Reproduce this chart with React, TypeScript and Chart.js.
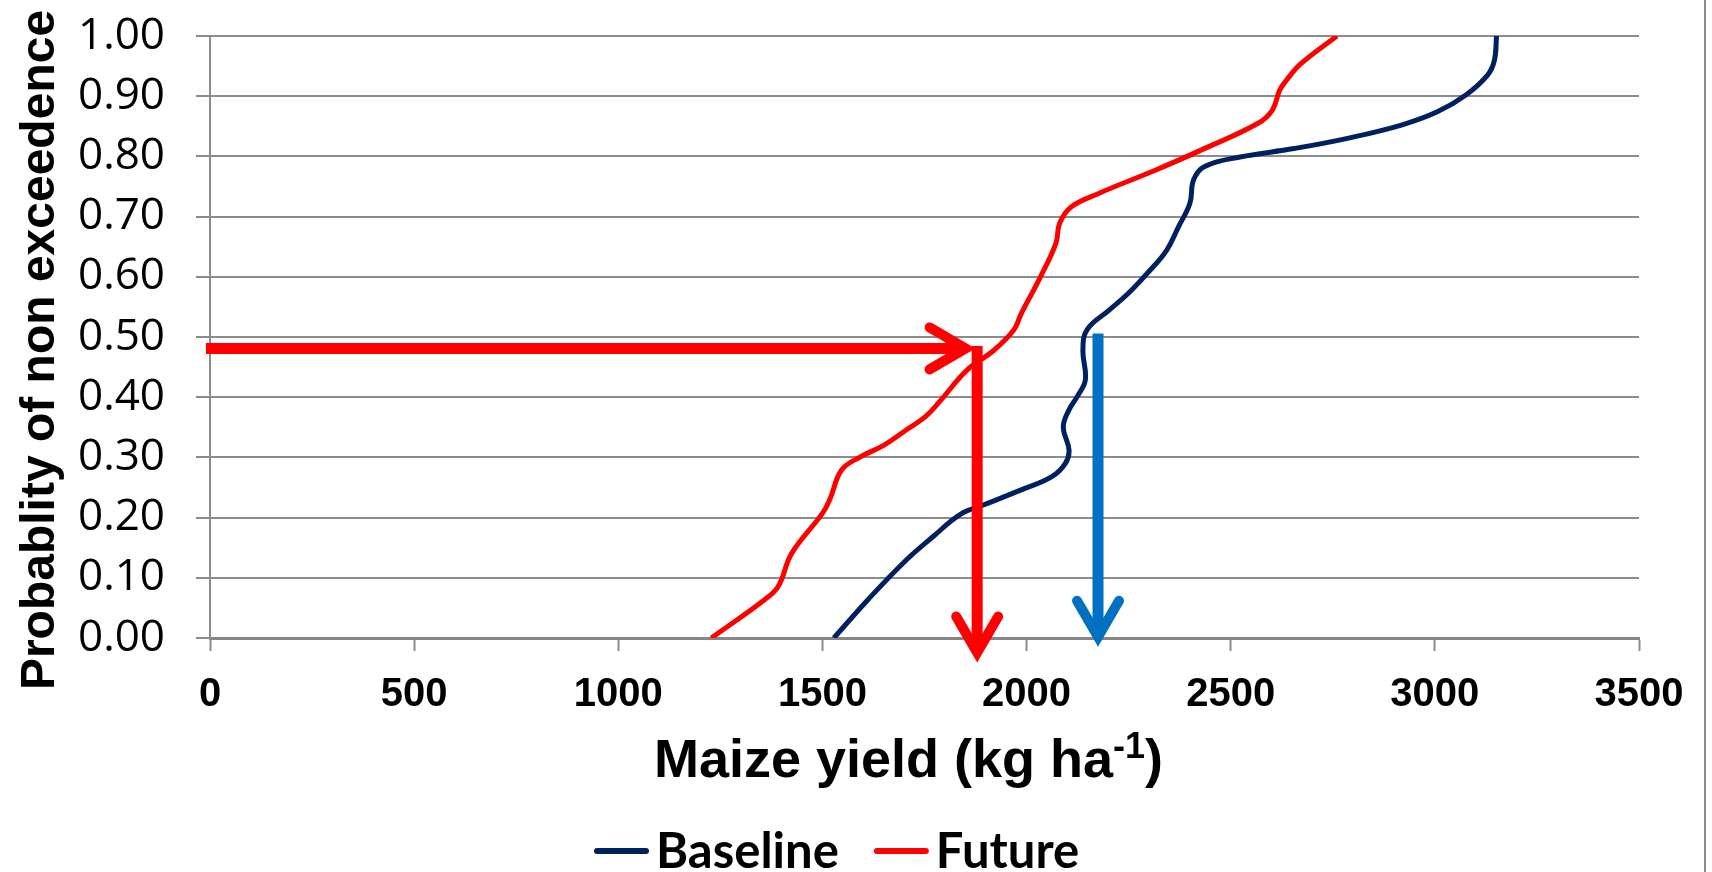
import React, { useEffect, useRef } from "react";
import { Chart, registerables } from "chart.js";

Chart.register(...registerables);

// ---------- data ----------
const seriesNames = ["Baseline", "Future"];
const seriesColors = ["#002060", "#FF0000"];

const baselineProb = [0, 0.064, 0.13, 0.169, 0.205, 0.221, 0.246, 0.268, 0.29, 0.312, 0.351, 0.379, 0.401, 0.429, 0.478, 0.512, 0.545, 0.573, 0.606, 0.644, 0.683, 0.722, 0.761, 0.783, 0.799, 0.813, 0.83, 0.852, 0.874, 0.902, 0.935, 0.96, 1.0];
const baselineYield = [1528, 1612, 1706, 1772, 1837, 1894, 1987, 2062, 2095, 2104, 2090, 2104, 2124, 2144, 2138, 2148, 2203, 2250, 2296, 2343, 2372, 2400, 2409, 2435, 2523, 2655, 2786, 2918, 3006, 3076, 3129, 3146, 3151];

const futureProb = [0, 0.064, 0.086, 0.141, 0.207, 0.23, 0.279, 0.301, 0.32, 0.346, 0.368, 0.395, 0.445, 0.478, 0.512, 0.539, 0.6, 0.656, 0.689, 0.716, 0.738, 0.777, 0.81, 0.855, 0.877, 0.91, 0.927, 0.954, 1.0];
const futureYield = [1228, 1359, 1392, 1425, 1500, 1518, 1547, 1593, 1650, 1706, 1753, 1790, 1854, 1920, 1969, 1987, 2034, 2072, 2081, 2109, 2175, 2315, 2426, 2567, 2602, 2620, 2637, 2672, 2760];

const xTicks = [0, 500, 1000, 1500, 2000, 2500, 3000, 3500];
const yTicks = [0, 0.1, 0.2, 0.3, 0.4, 0.5, 0.6, 0.7, 0.8, 0.9, 1.0];

const xTitleMain = "Maize yield (kg ha";
const xTitleSup = "-1";
const xTitleEnd = ")";
const yTitle = "Probablity of non exceedence";

// annotation arrows (data units)
const arrowFromYield = [-10, 1879, 2175];
const arrowFromProb = [0.481, 0.485, 0.506];
const arrowToYield = [1880, 1879, 2175];
const arrowToProb = [0.481, -0.044, -0.018];
const arrowColors = ["#FF0000", "#FF0000", "#0070C0"];

// ---------- styles ----------
const FONT_ARIAL = '"Liberation Sans", Arial, Helvetica, sans-serif';
const FONT_YTICK = '"Open Sans", "Noto Sans", sans-serif';
const FONT_LEGEND = 'Lato, "Open Sans", sans-serif';
const GRID = "#8C8C8C";

const W = 1712;
const H = 872;

function drawArrow(ctx: CanvasRenderingContext2D, x1: number, y1: number, x2: number, y2: number, color: string) {
  const dx = x2 - x1;
  const dy = y2 - y1;
  const len = Math.hypot(dx, dy);
  const ux = dx / len;
  const uy = dy / len;
  const px = -uy;
  const py = ux;
  const miter = 12;
  const tx = x2 - ux * miter;
  const ty = y2 - uy * miter;
  ctx.save();
  ctx.strokeStyle = color;
  ctx.lineWidth = 11;
  ctx.lineCap = "butt";
  ctx.beginPath();
  ctx.moveTo(x1, y1);
  ctx.lineTo(tx, ty);
  ctx.stroke();
  ctx.lineWidth = 10;
  ctx.lineCap = "round";
  ctx.lineJoin = "miter";
  ctx.miterLimit = 10;
  const back = 48;
  const side = 21;
  ctx.beginPath();
  ctx.moveTo(x2 - ux * back + px * side, y2 - uy * back + py * side);
  ctx.lineTo(tx, ty);
  ctx.lineTo(x2 - ux * back - px * side, y2 - uy * back - py * side);
  ctx.stroke();
  ctx.restore();
}

export default function App() {
  const ref = useRef<HTMLCanvasElement>(null);

  useEffect(() => {
    const canvas = ref.current;
    if (!canvas) return;

    const overlay = {
      id: "overlay",
      afterDatasetsDraw(chart: any) {
        const ctx: CanvasRenderingContext2D = chart.ctx;
        const xs = chart.scales.x;
        const ys = chart.scales.y;
        for (let i = 0; i < arrowColors.length; i++) {
          drawArrow(
            ctx,
            xs.getPixelForValue(arrowFromYield[i]),
            ys.getPixelForValue(arrowFromProb[i]),
            xs.getPixelForValue(arrowToYield[i]),
            ys.getPixelForValue(arrowToProb[i]),
            arrowColors[i]
          );
        }
      },
      afterDraw(chart: any) {
        const ctx: CanvasRenderingContext2D = chart.ctx;
        ctx.save();
        ctx.fillStyle = "#000";

        // x title with superscript
        const mainFont = `bold 54px ${FONT_ARIAL}`;
        const supFont = `bold 36px ${FONT_ARIAL}`;
        ctx.font = mainFont;
        const wMain = ctx.measureText(xTitleMain).width;
        const wEnd = ctx.measureText(xTitleEnd).width;
        ctx.font = supFont;
        const wSup = ctx.measureText(xTitleSup).width;
        const total = wMain + wSup + wEnd;
        const cx = (chart.chartArea.left + chart.chartArea.right) / 2 - 16;
        let x = cx - total / 2;
        const base = 777;
        ctx.textBaseline = "alphabetic";
        ctx.textAlign = "left";
        ctx.font = mainFont;
        ctx.fillText(xTitleMain, x, base);
        x += wMain;
        ctx.font = supFont;
        ctx.fillText(xTitleSup, x, base - 19);
        x += wSup;
        ctx.font = mainFont;
        ctx.fillText(xTitleEnd, x, base);

        // y title
        ctx.save();
        ctx.translate(54, 350);
        ctx.rotate(-Math.PI / 2);
        ctx.font = `bold 48px ${FONT_ARIAL}`;
        ctx.textAlign = "center";
        ctx.textBaseline = "alphabetic";
        ctx.fillText(yTitle, 0, 0);
        ctx.restore();

        // legend
        ctx.font = `bold 49px ${FONT_LEGEND}`;
        let lx = 594;
        const ly = 851;
        chart.data.datasets.forEach((ds: any) => {
          ctx.strokeStyle = ds.borderColor;
          ctx.lineWidth = 6;
          ctx.lineCap = "round";
          ctx.beginPath();
          ctx.moveTo(lx + 3, ly);
          ctx.lineTo(lx + 52, ly);
          ctx.stroke();
          ctx.fillStyle = "#000";
          ctx.textAlign = "left";
          ctx.textBaseline = "alphabetic";
          ctx.fillText(ds.label, lx + 62, 868);
          lx += 62 + ctx.measureText(ds.label).width + 35;
        });

        // outer frame edge
        ctx.strokeStyle = GRID;
        ctx.lineWidth = 2;
        ctx.beginPath();
        ctx.moveTo(1705, 0);
        ctx.lineTo(1705, H);
        ctx.stroke();
        ctx.restore();
      },
    };

    const chart = new Chart(canvas, {
      type: "line",
      data: {
        datasets: [
          {
            label: seriesNames[0],
            data: baselineProb.map((p, i) => ({ x: baselineYield[i], y: p })),
            borderColor: seriesColors[0],
            backgroundColor: seriesColors[0],
            borderWidth: 5,
            pointRadius: 0,
            tension: 0.4,
            fill: false,
          },
          {
            label: seriesNames[1],
            data: futureProb.map((p, i) => ({ x: futureYield[i], y: p })),
            borderColor: seriesColors[1],
            backgroundColor: seriesColors[1],
            borderWidth: 5,
            pointRadius: 0,
            tension: 0.4,
            fill: false,
          },
        ],
      },
      options: {
        animation: false,
        responsive: false,
        layout: { padding: { top: 36, right: 73, left: 0, bottom: 0 } },
        plugins: { legend: { display: false }, tooltip: { enabled: false } },
        scales: {
          x: {
            type: "linear",
            min: 0,
            max: 3500,
            afterBuildTicks: (s: any) => {
              s.ticks = xTicks.map((v) => ({ value: v }));
            },
            afterFit: (s: any) => {
              s.height = H - 638;
            },
            grid: { drawOnChartArea: false, tickLength: 13, tickColor: GRID, tickWidth: 2, color: GRID },
            border: { color: "#868686", width: 3 },
            ticks: {
              color: "#000",
              font: { family: FONT_ARIAL, size: 40, weight: "bold" },
              padding: 20,
              maxRotation: 0,
              autoSkip: false,
              callback: (v: any) => String(v),
            },
          },
          y: {
            type: "linear",
            min: 0,
            max: 1,
            afterBuildTicks: (s: any) => {
              s.ticks = yTicks.map((v) => ({ value: v }));
            },
            afterFit: (s: any) => {
              s.width = 210;
              s.paddingTop = 0;
              s.paddingBottom = 0;
            },
            grid: { color: GRID, lineWidth: 2, tickLength: 14, tickColor: GRID },
            border: { color: GRID, width: 2 },
            ticks: {
              color: "#000",
              font: { family: FONT_YTICK, size: 44, lineHeight: 0.5 },
              padding: 31,
              autoSkip: false,
              callback: (v: any) => Number(v).toFixed(2),
            },
          },
        },
      },
      plugins: [overlay],
    } as any);

    return () => chart.destroy();
  }, []);

  return (
    <div style={{ position: "fixed", left: 0, top: 0, width: W, height: H, background: "#fff" }}>
      <canvas ref={ref} width={W} height={H} style={{ display: "block", width: W, height: H }} />
    </div>
  );
}
